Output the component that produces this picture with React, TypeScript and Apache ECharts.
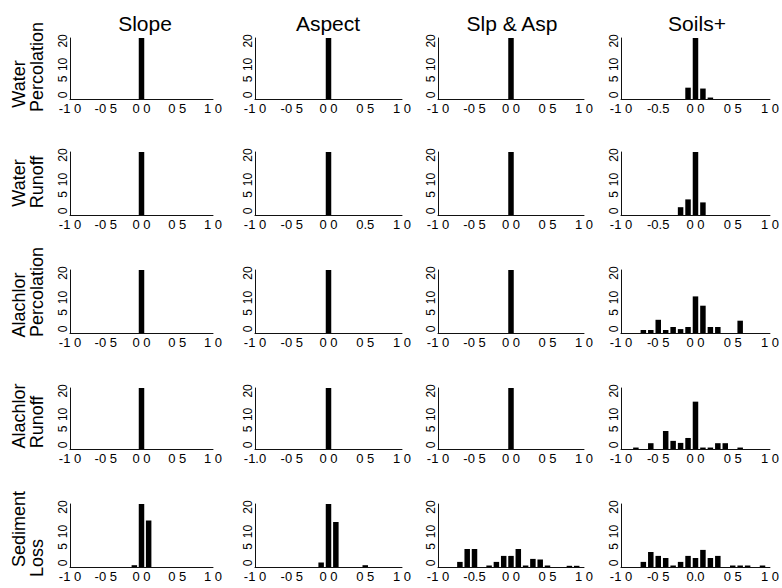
import React, { useEffect, useRef } from 'react';
import * as echarts from 'echarts';

// Histogram bin centres (width 0.1)
const BIN_CENTERS = [-1.0, -0.9, -0.8, -0.7, -0.6, -0.5, -0.4, -0.3, -0.2, -0.1, 0.0, 0.1, 0.2, 0.3, 0.4, 0.5, 0.6, 0.7, 0.8, 0.9, 1.0];

const COLUMN_TITLES = ['Slope', 'Aspect', 'Slp & Asp', 'Soils+'];
const ROW_TITLES = [
  ['Water', 'Percolation'],
  ['Water', 'Runoff'],
  ['Alachlor', 'Percolation'],
  ['Alachlor', 'Runoff'],
  ['Sediment', 'Loss'],
];

// Row 1: Water Percolation
const SLOPE_WATER_PERC = [0, 0, 0, 0, 0, 0, 0, 0, 0, 0, 21, 0, 0, 0, 0, 0, 0, 0, 0, 0, 0];
const ASPECT_WATER_PERC = [0, 0, 0, 0, 0, 0, 0, 0, 0, 0, 21, 0, 0, 0, 0, 0, 0, 0, 0, 0, 0];
const SLPASP_WATER_PERC = [0, 0, 0, 0, 0, 0, 0, 0, 0, 0, 21, 0, 0, 0, 0, 0, 0, 0, 0, 0, 0];
const SOILS_WATER_PERC = [0, 0, 0, 0, 0, 0, 0, 0, 0, 3.9, 21, 3.6, 0.5, 0, 0, 0, 0, 0, 0, 0, 0];
// Row 2: Water Runoff
const SLOPE_WATER_RUNOFF = [0, 0, 0, 0, 0, 0, 0, 0, 0, 0, 21, 0, 0, 0, 0, 0, 0, 0, 0, 0, 0];
const ASPECT_WATER_RUNOFF = [0, 0, 0, 0, 0, 0, 0, 0, 0, 0, 21, 0, 0, 0, 0, 0, 0, 0, 0, 0, 0];
const SLPASP_WATER_RUNOFF = [0, 0, 0, 0, 0, 0, 0, 0, 0, 0, 21, 0, 0, 0, 0, 0, 0, 0, 0, 0, 0];
const SOILS_WATER_RUNOFF = [0, 0, 0, 0, 0, 0, 0, 0, 2.6, 5.2, 21, 4.2, 0, 0, 0, 0, 0, 0, 0, 0, 0];
// Row 3: Alachlor Percolation
const SLOPE_ALA_PERC = [0, 0, 0, 0, 0, 0, 0, 0, 0, 0, 21, 0, 0, 0, 0, 0, 0, 0, 0, 0, 0];
const ASPECT_ALA_PERC = [0, 0, 0, 0, 0, 0, 0, 0, 0, 0, 21, 0, 0, 0, 0, 0, 0, 0, 0, 0, 0];
const SLPASP_ALA_PERC = [0, 0, 0, 0, 0, 0, 0, 0, 0, 0, 21, 0, 0, 0, 0, 0, 0, 0, 0, 0, 0];
const SOILS_ALA_PERC = [0, 0, 0, 1, 1, 4.4, 1, 2, 1.3, 2, 12.2, 9.1, 2, 2, 0, 0, 4.1, 0, 0, 0, 0];
// Row 4: Alachlor Runoff
const SLOPE_ALA_RUNOFF = [0, 0, 0, 0, 0, 0, 0, 0, 0, 0, 21, 0, 0, 0, 0, 0, 0, 0, 0, 0, 0];
const ASPECT_ALA_RUNOFF = [0, 0, 0, 0, 0, 0, 0, 0, 0, 0, 21, 0, 0, 0, 0, 0, 0, 0, 0, 0, 0];
const SLPASP_ALA_RUNOFF = [0, 0, 0, 0, 0, 0, 0, 0, 0, 0, 21, 0, 0, 0, 0, 0, 0, 0, 0, 0, 0];
const SOILS_ALA_RUNOFF = [0, 0, 0.5, 0, 2, 0, 6.2, 2.8, 2.1, 3.8, 16.3, 0.5, 0.5, 2, 2, 0, 0.5, 0, 0, 0, 0];
// Row 5: Sediment Loss
const SLOPE_SED = [0, 0, 0, 0, 0, 0, 0, 0, 0, 0.6, 21, 15.5, 0, 0, 0, 0, 0, 0, 0, 0, 0];
const ASPECT_SED = [0, 0, 0, 0, 0, 0, 0, 0, 0, 1.5, 21, 15, 0, 0, 0, 0.6, 0, 0, 0, 0, 0];
const SLPASP_SED = [0, 0, 0, 1.7, 6, 6, 0, 0.5, 1.7, 3.7, 3.7, 6, 0.5, 2.7, 2.5, 0.5, 0, 0, 0.4, 0.4, 0];
const SOILS_SED = [0, 0, 0, 1.7, 5, 3.7, 3, 0.5, 1.7, 3.7, 3, 5.7, 3, 3.7, 0, 0.5, 0.5, 0.5, 0, 0.5, 0];

const PANEL_COUNTS = [
  [SLOPE_WATER_PERC, ASPECT_WATER_PERC, SLPASP_WATER_PERC, SOILS_WATER_PERC],
  [SLOPE_WATER_RUNOFF, ASPECT_WATER_RUNOFF, SLPASP_WATER_RUNOFF, SOILS_WATER_RUNOFF],
  [SLOPE_ALA_PERC, ASPECT_ALA_PERC, SLPASP_ALA_PERC, SOILS_ALA_PERC],
  [SLOPE_ALA_RUNOFF, ASPECT_ALA_RUNOFF, SLPASP_ALA_RUNOFF, SOILS_ALA_RUNOFF],
  [SLOPE_SED, ASPECT_SED, SLPASP_SED, SOILS_SED],
];

// X tick labels (as printed in the scanned figure)
const X_TICK_VALUES = [-1, -0.5, 0, 0.5, 1];
const X_LABELS_DEFAULT = ['-1 0', '-0 5', '0 0', '0 5', '1 0'];
const X_LABELS_A = ['-1 0', '-0.5', '0 0', '0 5', '1 0'];
const X_LABELS_B = ['-1 0', '-0 5', '0 0', '0.5', '1 0'];
const X_LABELS_C = ['-1.0', '-0 5', '0 0', '0 5', '1 0'];
const X_LABELS_D = ['-1 0', '-0 5', '0.0', '0 5', '1 0'];
const PANEL_X_LABELS = [
  [X_LABELS_DEFAULT, X_LABELS_DEFAULT, X_LABELS_DEFAULT, X_LABELS_A],
  [X_LABELS_DEFAULT, X_LABELS_B, X_LABELS_DEFAULT, X_LABELS_A],
  [X_LABELS_DEFAULT, X_LABELS_DEFAULT, X_LABELS_DEFAULT, X_LABELS_DEFAULT],
  [X_LABELS_DEFAULT, X_LABELS_C, X_LABELS_DEFAULT, X_LABELS_DEFAULT],
  [X_LABELS_DEFAULT, X_LABELS_DEFAULT, X_LABELS_A, X_LABELS_D],
];

const Y_TICK_LABELS = [0, 5, 10, 20];
const Y_MAX = 21;

// Layout
const COL_LEFT = [70, 255, 438, 621];
const COL_WIDTH = [143, 147, 146, 149];
const ROW_TOP = [38, 152, 270, 388, 504];
const ROW_HEIGHT = [61, 63, 63, 61, 63];
const COL_TITLE_X = [145, 328, 512, 697];
const ROW_LABEL_X = [19, 37];
const ROW_LABEL_Y = [
  [84, 67],
  [183, 182],
  [305, 292],
  [416, 422],
  [529, 558],
];

const FONT = '"Liberation Sans", Arial, Helvetica, sans-serif';

export default function App() {
  const ref = useRef<HTMLDivElement>(null);

  useEffect(() => {
    document.body.style.margin = '0';
    if (!ref.current) return;
    const chart = echarts.init(ref.current, undefined, { renderer: 'svg' });

    const grids: any[] = [];
    const xAxes: any[] = [];
    const yAxes: any[] = [];
    const series: any[] = [];

    PANEL_COUNTS.forEach((row, r) => {
      row.forEach((counts, c) => {
        const idx = grids.length;
        const labels = PANEL_X_LABELS[r][c];
        grids.push({
          left: COL_LEFT[c],
          top: ROW_TOP[r],
          width: COL_WIDTH[c],
          height: ROW_HEIGHT[r],
          containLabel: false,
        });
        xAxes.push({
          gridIndex: idx,
          type: 'value',
          min: -1,
          max: 1,
          interval: 0.5,
          axisLine: { show: true, onZero: false, lineStyle: { color: '#111', width: 1 } },
          axisTick: { show: false },
          splitLine: { show: false },
          axisLabel: {
            show: true,
            margin: 3,
            fontSize: 13,
            fontFamily: FONT,
            color: '#000',
            showMinLabel: true,
            showMaxLabel: true,
            hideOverlap: false,
            formatter: (v: number) => {
              const k = X_TICK_VALUES.findIndex((t) => Math.abs(t - v) < 1e-6);
              return k >= 0 ? labels[k] : '';
            },
          },
        });
        yAxes.push({
          gridIndex: idx,
          type: 'value',
          min: 0,
          max: Y_MAX,
          interval: 5,
          axisLine: { show: true, onZero: false, lineStyle: { color: '#111', width: 1 } },
          axisTick: { show: false },
          splitLine: { show: false },
          axisLabel: {
            show: true,
            rotate: 90,
            margin: 1,
            fontSize: 12,
            fontFamily: FONT,
            color: '#000',
            showMinLabel: true,
            showMaxLabel: true,
            hideOverlap: false,
            formatter: (v: number) => {
              if (!Y_TICK_LABELS.includes(v)) return '';
              if (v === 0) return '{z|0}';
              if (v === 5 || v === 10) return '{m|' + v + '}';
              return String(v);
            },
            rich: {
              z: { fontSize: 12, fontFamily: FONT, color: '#000', padding: [0, 0, 0, 8] },
              m: { fontSize: 12, fontFamily: FONT, color: '#000', padding: [0, 0, 0, 11] },
            },
          },
        });
        series.push({
          type: 'bar',
          xAxisIndex: idx,
          yAxisIndex: idx,
          barWidth: 5.5,
          itemStyle: { color: '#000' },
          data: BIN_CENTERS.map((x, i) => [x, counts[i]]).filter((d) => d[1] > 0),
        });
      });
    });

    const graphics: any[] = [];
    COLUMN_TITLES.forEach((t, c) => {
      graphics.push({
        type: 'text',
        x: COL_TITLE_X[c],
        y: 23,
        style: {
          text: t,
          fontSize: 21,
          fontFamily: FONT,
          fill: '#000',
          align: 'center',
          verticalAlign: 'middle',
        },
      });
    });
    ROW_TITLES.forEach((lines, r) => {
      lines.forEach((line, j) => {
        graphics.push({
          type: 'text',
          x: ROW_LABEL_X[j],
          y: ROW_LABEL_Y[r][j],
          rotation: Math.PI / 2,
          style: {
            text: line,
            fontSize: 18,
            fontFamily: FONT,
            fill: '#000',
            align: 'center',
            verticalAlign: 'middle',
          },
        });
      });
    });

    chart.setOption({
      animation: false,
      backgroundColor: '#fff',
      grid: grids,
      xAxis: xAxes,
      yAxis: yAxes,
      series,
      graphic: graphics,
    });

    return () => chart.dispose();
  }, []);

  return <div ref={ref} style={{ width: 782, height: 588 }} />;
}
